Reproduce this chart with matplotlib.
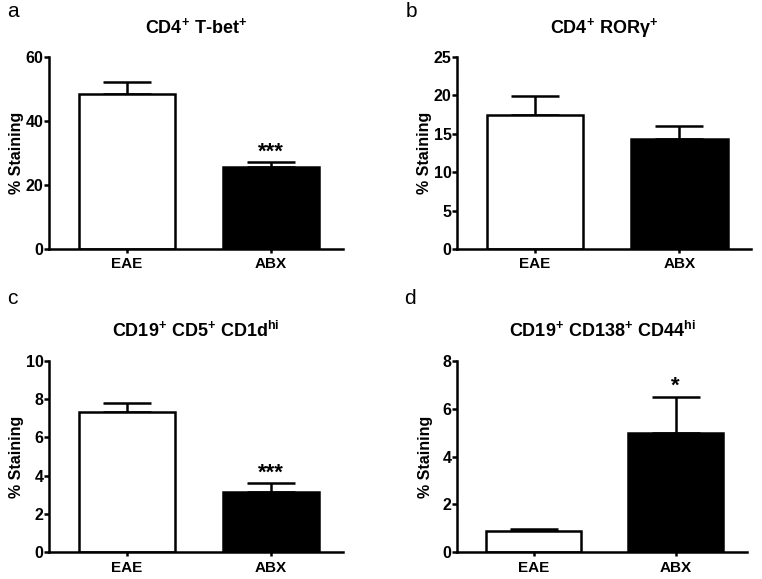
import matplotlib
matplotlib.use('Agg')
import matplotlib.pyplot as plt

plt.rcParams['font.family'] = ['Liberation Sans', 'DejaVu Sans']
plt.rcParams['mathtext.fontset'] = 'custom'
plt.rcParams['mathtext.bf'] = 'Liberation Sans:bold'
plt.rcParams['mathtext.rm'] = 'Liberation Sans:bold'
plt.rcParams['mathtext.default'] = 'bf'

groups = ['EAE', 'ABX']

tbet_mean = [48.5, 25.6]
tbet_sem = [3.5, 1.4]
rorg_mean = [17.4, 14.3]
rorg_sem = [2.5, 1.7]
breg_mean = [7.3, 3.15]
breg_sem = [0.5, 0.45]
plasma_mean = [0.88, 5.0]
plasma_sem = [0.09, 1.5]

panels = [
    ('a', 'CD4$^{+}$ T-bet$^{+}$', tbet_mean, tbet_sem, [0, 20, 40, 60], ['', '***']),
    ('b', 'CD4$^{+}$ ROR\u03b3$^{+}$', rorg_mean, rorg_sem, [0, 5, 10, 15, 20, 25], ['', '']),
    ('c', 'CD19$^{+}$ CD5$^{+}$ CD1d$^{hi}$', breg_mean, breg_sem, [0, 2, 4, 6, 8, 10], ['', '***']),
    ('d', 'CD19$^{+}$ CD138$^{+}$ CD44$^{hi}$', plasma_mean, plasma_sem, [0, 2, 4, 6, 8], ['', '*']),
]

# axes rectangles in figure fraction (left, bottom, width, height)
rects = [
    (0.0643, 0.570, 0.386, 0.332),
    (0.600, 0.570, 0.386, 0.332),
    (0.0643, 0.046, 0.386, 0.331),
    (0.600, 0.046, 0.380, 0.331),
]
label_pos = [(0.010, 0.970), (0.533, 0.970), (0.010, 0.475), (0.531, 0.475)]

fig = plt.figure(figsize=(7.62, 5.79), dpi=100)
lw = 1.8
for (lab, title, mean, sem, ticks, stars), rect, lp in zip(panels, rects, label_pos):
    ax = fig.add_axes(rect)
    x = [0, 1]
    ax.bar(x, mean, width=0.67, color=['white', 'black'], edgecolor='black',
           linewidth=lw, zorder=2)
    ax.errorbar(x, mean, yerr=[[0, 0], sem], fmt='none', ecolor='black',
                elinewidth=lw, capsize=17, capthick=lw, zorder=1)
    top = ticks[-1]
    for xi, m, s, st in zip(x, mean, sem, stars):
        if st:
            ax.text(xi, m + s, st, ha='center', va='bottom',
                    fontsize=16, fontweight='bold')
    ax.set_xlim(-0.54, 1.5)
    ax.set_ylim(0, top)
    ax.set_yticks(ticks)
    ax.set_xticks(x)
    ax.set_xticklabels(groups)
    for sp in ['top', 'right']:
        ax.spines[sp].set_visible(False)
    for sp in ['left', 'bottom']:
        ax.spines[sp].set_linewidth(lw)
    ax.tick_params(axis='y', length=3.5, width=lw, labelsize=11.5, pad=0.5)
    ax.tick_params(axis='x', length=3, width=lw, labelsize=11, pad=3)
    for t in ax.get_xticklabels() + ax.get_yticklabels():
        t.set_fontweight('bold')
    ax.set_ylabel('% Staining', fontsize=11.5, fontweight='bold')
    ax.yaxis.set_label_coords(-0.085, 0.5)
    ax.set_title(title, fontsize=13, fontweight='bold', pad=17)
    fig.text(lp[0], lp[1], lab, fontsize=15, ha='left', va='baseline')

fig.savefig('out.png', dpi=100)
